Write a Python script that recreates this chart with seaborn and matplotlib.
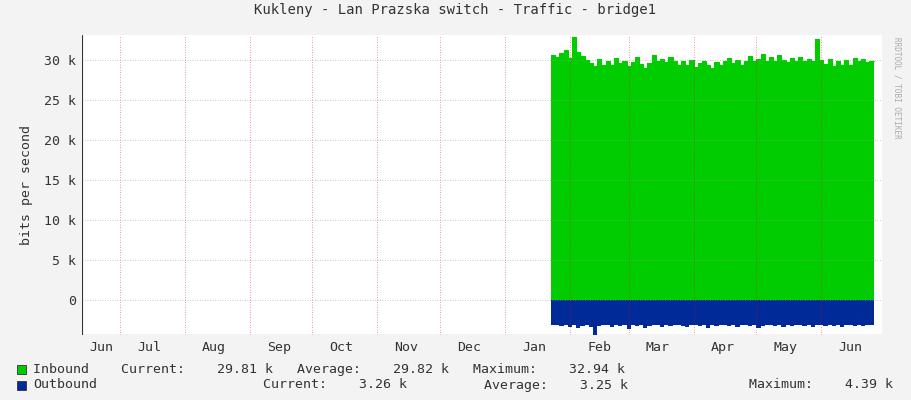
import numpy as np
import pandas as pd
import matplotlib.pyplot as plt
import matplotlib.dates as mdates
import seaborn as sns

# Traffic samples, every 2 days from 2013-01-23
inbound = [30.6, 30.4, 30.9, 31.2, 30.2, 32.9, 31.0, 30.5, 30.0, 29.6, 29.2, 30.1, 29.4, 29.8,
           29.3, 30.2, 29.6, 29.9, 29.2, 29.7, 30.3, 29.5, 29.0, 29.6, 30.6, 29.8, 30.1, 29.7,
           30.4, 29.9, 29.3, 29.8, 29.4, 30.0, 29.1, 29.6, 29.9, 29.4, 29.0, 29.7, 29.3, 29.9,
           30.2, 29.6, 30.0, 29.4, 29.8, 30.5, 29.9, 30.1, 30.7, 29.8, 30.3, 29.9, 30.6, 30.0,
           29.7, 30.2, 29.9, 30.4, 29.8, 30.1, 29.9, 32.6, 30.0, 29.5, 30.1, 29.2, 29.8, 29.4,
           30.0, 29.3, 30.2, 29.8, 30.1, 29.7, 29.8, 29.81]
outbound = [3.2, 3.1, 3.3, 3.2, 3.4, 3.2, 3.5, 3.3, 3.2, 3.4, 4.39, 3.3, 3.2, 3.1,
            3.4, 3.2, 3.3, 3.1, 3.6, 3.2, 3.3, 3.2, 3.5, 3.3, 3.1, 3.2, 3.4, 3.2,
            3.3, 3.1, 3.2, 3.3, 3.4, 3.2, 3.1, 3.3, 3.2, 3.5, 3.2, 3.3, 3.1, 3.2,
            3.3, 3.2, 3.4, 3.1, 3.2, 3.3, 3.2, 3.5, 3.3, 3.2, 3.1, 3.3, 3.2, 3.4,
            3.2, 3.3, 3.1, 3.2, 3.3, 3.2, 3.4, 3.2, 3.1, 3.3, 3.2, 3.3, 3.2, 3.4,
            3.2, 3.1, 3.3, 3.2, 3.3, 3.2, 3.2, 3.26]
month_labels = ['Jun', 'Jul', 'Aug', 'Sep', 'Oct', 'Nov', 'Dec', 'Jan', 'Feb', 'Mar', 'Apr', 'May', 'Jun']
yticks = [0, 5, 10, 15, 20, 25, 30]

dates = pd.date_range('2013-01-23', periods=len(inbound), freq='2D')
df = pd.DataFrame({'date': dates, 'in': inbound, 'out': [-v for v in outbound]})

sns.set_style('white')
mono = 'DejaVu Sans Mono'
fig = plt.figure(figsize=(9.11, 4.0), dpi=100, facecolor='#f3f3f3')
ax = fig.add_axes([82/911, 65/400, 800/911, 300/400])
ax.set_facecolor('white')

ax.fill_between(df['date'], 0, df['in'], step='post', color='#00cc00', lw=0)
ax.fill_between(df['date'], 0, df['out'], step='post', color='#002a97', lw=0)
sns.lineplot(data=df, x='date', y='in', ax=ax, color='#00cc00', lw=0.8, drawstyle='steps-post')

x0, x1 = pd.Timestamp('2012-06-13'), pd.Timestamp('2013-06-30')
ax.set_xlim(x0, x1)
ax.set_ylim(-4.4, 33.1)

starts = pd.date_range('2012-07-01', '2013-06-01', freq='MS')
for d in starts:
    ax.axvline(d, color='#ff0000', ls=(0, (1, 2)), lw=0.6, alpha=0.6, zorder=3)
for v in yticks:
    ax.axhline(v, color='#999999', ls=(0, (1, 2)), lw=0.6, alpha=0.7, zorder=3)

mids = [pd.Timestamp('2012-06-01') + pd.DateOffset(months=i) + pd.Timedelta(days=14) for i in range(13)]
mids[0] = pd.Timestamp('2012-06-22')
ax.set_xticks(mids)
ax.set_xticklabels(month_labels, fontfamily=mono, fontsize=9.5, color='#333333')
ax.set_yticks(yticks)
ax.set_yticklabels(['0'] + ['%d k' % v for v in yticks[1:]], fontfamily=mono, fontsize=9.5, color='#333333')
ax.tick_params(length=0, pad=4)
ax.set_xlabel('')
ax.set_ylabel('bits per second', fontfamily=mono, fontsize=9.5, color='#333333', labelpad=8)
for s in ax.spines.values():
    s.set_visible(False)
ax.axhline(-4.4, color='#333333', lw=0.8, zorder=4)
ax.axvline(x0, color='#333333', lw=0.8, zorder=4)

fig.text(0.5, 0.965, 'Kukleny - Lan Prazska switch - Traffic - bridge1', ha='center',
         fontfamily=mono, fontsize=10, color='#333333')
fig.text(0.985, 0.5 + 0.28, 'RRDTOOL / TOBI OETIKER', rotation=270, ha='center', va='center',
         fontfamily=mono, fontsize=5.5, color='#aaaaaa')

fig.patches.append(plt.Rectangle((17/911, 1 - 374/400), 9/911, 9/400, transform=fig.transFigure,
                                 facecolor='#00cc00', edgecolor='#333333', lw=0.6))
fig.patches.append(plt.Rectangle((17/911, 1 - 390/400), 9/911, 9/400, transform=fig.transFigure,
                                 facecolor='#002a97', edgecolor='#333333', lw=0.6))
kw = dict(fontfamily=mono, fontsize=9.5, color='#333333', va='center')
fig.text(33/911, 1 - 369/400, 'Inbound    Current:    %.2f k   Average:    29.82 k   Maximum:    32.94 k' % inbound[-1], **kw)
fig.text(33/911, 1 - 385/400, 'Outbound', **kw)
fig.text(263/911, 1 - 385/400, 'Current:    %.2f k' % outbound[-1], **kw)
fig.text(484/911, 1 - 385/400, 'Average:    3.25 k', **kw)
fig.text(749/911, 1 - 385/400, 'Maximum:    %.2f k' % max(outbound), **kw)

fig.savefig('out.png', dpi=100, facecolor=fig.get_facecolor())
